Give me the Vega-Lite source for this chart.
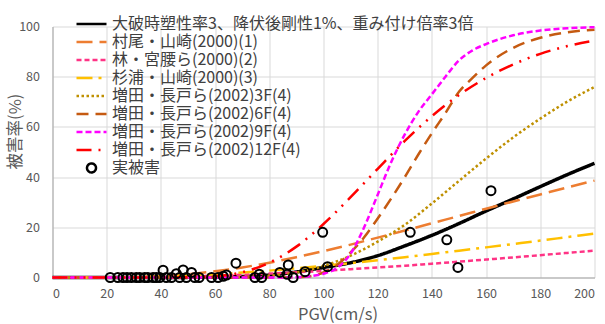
{
  "$schema": "https://vega.github.io/schema/vega-lite/v6.json",
  "width": 542,
  "height": 251,
  "autosize": {"type": "none"},
  "padding": {"left": 52.5, "top": 26.5, "right": 10.5, "bottom": 46.5},
  "background": "white",
  "config": {
    "view": {"stroke": null},
    "font": "Noto Sans CJK JP",
    "axis": {
      "labelFont": "Noto Sans CJK JP",
      "labelFontSize": 12.5,
      "labelColor": "#595959",
      "titleFont": "Noto Sans CJK JP",
      "titleFontSize": 16.5,
      "titleColor": "#595959",
      "titleFontWeight": "normal",
      "gridColor": "#D9D9D9",
      "gridWidth": 1,
      "ticks": false,
      "domainColor": "#A6A6A6",
      "domainWidth": 1
    },
    "legend": {
      "labelFont": "Noto Sans CJK JP",
      "labelFontSize": 16,
      "labelColor": "#404040",
      "labelLimit": 600
    }
  },
  "datasets": {
    "black": [
      {"s": "大破時塑性率3、降伏後剛性1%、重み付け倍率3倍", "x": 0, "y": 0},
      {"s": "大破時塑性率3、降伏後剛性1%、重み付け倍率3倍", "x": 20, "y": 0},
      {"s": "大破時塑性率3、降伏後剛性1%、重み付け倍率3倍", "x": 40, "y": 0},
      {"s": "大破時塑性率3、降伏後剛性1%、重み付け倍率3倍", "x": 50, "y": 0.05},
      {"s": "大破時塑性率3、降伏後剛性1%、重み付け倍率3倍", "x": 60, "y": 0.1},
      {"s": "大破時塑性率3、降伏後剛性1%、重み付け倍率3倍", "x": 70, "y": 0.4},
      {"s": "大破時塑性率3、降伏後剛性1%、重み付け倍率3倍", "x": 80, "y": 1.0},
      {"s": "大破時塑性率3、降伏後剛性1%、重み付け倍率3倍", "x": 90, "y": 2.2},
      {"s": "大破時塑性率3、降伏後剛性1%、重み付け倍率3倍", "x": 100, "y": 4.0},
      {"s": "大破時塑性率3、降伏後剛性1%、重み付け倍率3倍", "x": 110, "y": 5.9},
      {"s": "大破時塑性率3、降伏後剛性1%、重み付け倍率3倍", "x": 120, "y": 8.7},
      {"s": "大破時塑性率3、降伏後剛性1%、重み付け倍率3倍", "x": 130, "y": 12.6},
      {"s": "大破時塑性率3、降伏後剛性1%、重み付け倍率3倍", "x": 140, "y": 16.8},
      {"s": "大破時塑性率3、降伏後剛性1%、重み付け倍率3倍", "x": 150, "y": 21.5},
      {"s": "大破時塑性率3、降伏後剛性1%、重み付け倍率3倍", "x": 160, "y": 26.5},
      {"s": "大破時塑性率3、降伏後剛性1%、重み付け倍率3倍", "x": 170, "y": 31.3},
      {"s": "大破時塑性率3、降伏後剛性1%、重み付け倍率3倍", "x": 180, "y": 36.2},
      {"s": "大破時塑性率3、降伏後剛性1%、重み付け倍率3倍", "x": 190, "y": 41},
      {"s": "大破時塑性率3、降伏後剛性1%、重み付け倍率3倍", "x": 200, "y": 45.5}
    ],
    "curves": [
      {"s": "村尾・山崎(2000)(1)", "x": 0, "y": 0},
      {"s": "村尾・山崎(2000)(1)", "x": 10, "y": 0},
      {"s": "村尾・山崎(2000)(1)", "x": 20, "y": 0.03},
      {"s": "村尾・山崎(2000)(1)", "x": 30, "y": 0.17},
      {"s": "村尾・山崎(2000)(1)", "x": 40, "y": 0.6},
      {"s": "村尾・山崎(2000)(1)", "x": 50, "y": 1.3},
      {"s": "村尾・山崎(2000)(1)", "x": 60, "y": 2.5},
      {"s": "村尾・山崎(2000)(1)", "x": 70, "y": 4.0},
      {"s": "村尾・山崎(2000)(1)", "x": 80, "y": 5.9},
      {"s": "村尾・山崎(2000)(1)", "x": 90, "y": 8.1},
      {"s": "村尾・山崎(2000)(1)", "x": 100, "y": 10.5},
      {"s": "村尾・山崎(2000)(1)", "x": 110, "y": 13.1},
      {"s": "村尾・山崎(2000)(1)", "x": 120, "y": 15.9},
      {"s": "村尾・山崎(2000)(1)", "x": 130, "y": 18.7},
      {"s": "村尾・山崎(2000)(1)", "x": 140, "y": 21.6},
      {"s": "村尾・山崎(2000)(1)", "x": 150, "y": 24.5},
      {"s": "村尾・山崎(2000)(1)", "x": 160, "y": 27.4},
      {"s": "村尾・山崎(2000)(1)", "x": 170, "y": 30.3},
      {"s": "村尾・山崎(2000)(1)", "x": 180, "y": 33.1},
      {"s": "村尾・山崎(2000)(1)", "x": 190, "y": 35.9},
      {"s": "村尾・山崎(2000)(1)", "x": 200, "y": 38.6},
      {"s": "林・宮腰ら(2000)(2)", "x": 0, "y": 0},
      {"s": "林・宮腰ら(2000)(2)", "x": 20, "y": 0.02},
      {"s": "林・宮腰ら(2000)(2)", "x": 30, "y": 0.08},
      {"s": "林・宮腰ら(2000)(2)", "x": 40, "y": 0.22},
      {"s": "林・宮腰ら(2000)(2)", "x": 50, "y": 0.43},
      {"s": "林・宮腰ら(2000)(2)", "x": 60, "y": 0.72},
      {"s": "林・宮腰ら(2000)(2)", "x": 70, "y": 1.1},
      {"s": "林・宮腰ら(2000)(2)", "x": 80, "y": 1.55},
      {"s": "林・宮腰ら(2000)(2)", "x": 90, "y": 2.07},
      {"s": "林・宮腰ら(2000)(2)", "x": 100, "y": 2.65},
      {"s": "林・宮腰ら(2000)(2)", "x": 110, "y": 3.3},
      {"s": "林・宮腰ら(2000)(2)", "x": 120, "y": 4.0},
      {"s": "林・宮腰ら(2000)(2)", "x": 130, "y": 4.7},
      {"s": "林・宮腰ら(2000)(2)", "x": 140, "y": 5.5},
      {"s": "林・宮腰ら(2000)(2)", "x": 150, "y": 6.3},
      {"s": "林・宮腰ら(2000)(2)", "x": 160, "y": 7.15},
      {"s": "林・宮腰ら(2000)(2)", "x": 170, "y": 8.0},
      {"s": "林・宮腰ら(2000)(2)", "x": 180, "y": 8.9},
      {"s": "林・宮腰ら(2000)(2)", "x": 190, "y": 9.8},
      {"s": "林・宮腰ら(2000)(2)", "x": 200, "y": 10.7},
      {"s": "杉浦・山崎(2000)(3)", "x": 0, "y": 0},
      {"s": "杉浦・山崎(2000)(3)", "x": 20, "y": 0.03},
      {"s": "杉浦・山崎(2000)(3)", "x": 30, "y": 0.15},
      {"s": "杉浦・山崎(2000)(3)", "x": 40, "y": 0.38},
      {"s": "杉浦・山崎(2000)(3)", "x": 50, "y": 0.76},
      {"s": "杉浦・山崎(2000)(3)", "x": 60, "y": 1.29},
      {"s": "杉浦・山崎(2000)(3)", "x": 70, "y": 1.95},
      {"s": "杉浦・山崎(2000)(3)", "x": 80, "y": 2.74},
      {"s": "杉浦・山崎(2000)(3)", "x": 90, "y": 3.64},
      {"s": "杉浦・山崎(2000)(3)", "x": 100, "y": 4.65},
      {"s": "杉浦・山崎(2000)(3)", "x": 110, "y": 5.7},
      {"s": "杉浦・山崎(2000)(3)", "x": 120, "y": 6.9},
      {"s": "杉浦・山崎(2000)(3)", "x": 130, "y": 8.1},
      {"s": "杉浦・山崎(2000)(3)", "x": 140, "y": 9.4},
      {"s": "杉浦・山崎(2000)(3)", "x": 150, "y": 10.7},
      {"s": "杉浦・山崎(2000)(3)", "x": 160, "y": 12.0},
      {"s": "杉浦・山崎(2000)(3)", "x": 170, "y": 13.35},
      {"s": "杉浦・山崎(2000)(3)", "x": 180, "y": 14.7},
      {"s": "杉浦・山崎(2000)(3)", "x": 190, "y": 16.1},
      {"s": "杉浦・山崎(2000)(3)", "x": 200, "y": 17.5},
      {"s": "増田・長戸ら(2002)3F(4)", "x": 0, "y": 0},
      {"s": "増田・長戸ら(2002)3F(4)", "x": 40, "y": 0},
      {"s": "増田・長戸ら(2002)3F(4)", "x": 50, "y": 0},
      {"s": "増田・長戸ら(2002)3F(4)", "x": 60, "y": 0.03},
      {"s": "増田・長戸ら(2002)3F(4)", "x": 70, "y": 0.18},
      {"s": "増田・長戸ら(2002)3F(4)", "x": 80, "y": 0.7},
      {"s": "増田・長戸ら(2002)3F(4)", "x": 90, "y": 2.0},
      {"s": "増田・長戸ら(2002)3F(4)", "x": 100, "y": 4.6},
      {"s": "増田・長戸ら(2002)3F(4)", "x": 110, "y": 8.7},
      {"s": "増田・長戸ら(2002)3F(4)", "x": 120, "y": 14.3},
      {"s": "増田・長戸ら(2002)3F(4)", "x": 130, "y": 21},
      {"s": "増田・長戸ら(2002)3F(4)", "x": 140, "y": 29.5},
      {"s": "増田・長戸ら(2002)3F(4)", "x": 150, "y": 38.5},
      {"s": "増田・長戸ら(2002)3F(4)", "x": 160, "y": 47.4},
      {"s": "増田・長戸ら(2002)3F(4)", "x": 170, "y": 55.8},
      {"s": "増田・長戸ら(2002)3F(4)", "x": 180, "y": 63.3},
      {"s": "増田・長戸ら(2002)3F(4)", "x": 190, "y": 70.1},
      {"s": "増田・長戸ら(2002)3F(4)", "x": 200, "y": 75.9},
      {"s": "増田・長戸ら(2002)6F(4)", "x": 0, "y": 0},
      {"s": "増田・長戸ら(2002)6F(4)", "x": 80, "y": 0},
      {"s": "増田・長戸ら(2002)6F(4)", "x": 90, "y": 0.1},
      {"s": "増田・長戸ら(2002)6F(4)", "x": 95, "y": 0.5},
      {"s": "増田・長戸ら(2002)6F(4)", "x": 100, "y": 2.0},
      {"s": "増田・長戸ら(2002)6F(4)", "x": 105, "y": 5},
      {"s": "増田・長戸ら(2002)6F(4)", "x": 110, "y": 10},
      {"s": "増田・長戸ら(2002)6F(4)", "x": 115, "y": 16},
      {"s": "増田・長戸ら(2002)6F(4)", "x": 120, "y": 23.5},
      {"s": "増田・長戸ら(2002)6F(4)", "x": 125, "y": 31.5},
      {"s": "増田・長戸ら(2002)6F(4)", "x": 130, "y": 40},
      {"s": "増田・長戸ら(2002)6F(4)", "x": 135, "y": 49},
      {"s": "増田・長戸ら(2002)6F(4)", "x": 140, "y": 57.5},
      {"s": "増田・長戸ら(2002)6F(4)", "x": 145, "y": 65.5},
      {"s": "増田・長戸ら(2002)6F(4)", "x": 150, "y": 74},
      {"s": "増田・長戸ら(2002)6F(4)", "x": 155, "y": 79.5},
      {"s": "増田・長戸ら(2002)6F(4)", "x": 160, "y": 84.5},
      {"s": "増田・長戸ら(2002)6F(4)", "x": 170, "y": 91.5},
      {"s": "増田・長戸ら(2002)6F(4)", "x": 180, "y": 95.5},
      {"s": "増田・長戸ら(2002)6F(4)", "x": 190, "y": 97.7},
      {"s": "増田・長戸ら(2002)6F(4)", "x": 200, "y": 98.7},
      {"s": "増田・長戸ら(2002)9F(4)", "x": 0, "y": 0},
      {"s": "増田・長戸ら(2002)9F(4)", "x": 80, "y": 0},
      {"s": "増田・長戸ら(2002)9F(4)", "x": 90, "y": 0.1},
      {"s": "増田・長戸ら(2002)9F(4)", "x": 95, "y": 0.5},
      {"s": "増田・長戸ら(2002)9F(4)", "x": 100, "y": 1.5},
      {"s": "増田・長戸ら(2002)9F(4)", "x": 105, "y": 3.8},
      {"s": "増田・長戸ら(2002)9F(4)", "x": 110, "y": 9.5},
      {"s": "増田・長戸ら(2002)9F(4)", "x": 115, "y": 20},
      {"s": "増田・長戸ら(2002)9F(4)", "x": 120, "y": 33},
      {"s": "増田・長戸ら(2002)9F(4)", "x": 125, "y": 46},
      {"s": "増田・長戸ら(2002)9F(4)", "x": 130, "y": 57},
      {"s": "増田・長戸ら(2002)9F(4)", "x": 135, "y": 66},
      {"s": "増田・長戸ら(2002)9F(4)", "x": 140, "y": 73},
      {"s": "増田・長戸ら(2002)9F(4)", "x": 145, "y": 80},
      {"s": "増田・長戸ら(2002)9F(4)", "x": 150, "y": 86.5},
      {"s": "増田・長戸ら(2002)9F(4)", "x": 155, "y": 90.5},
      {"s": "増田・長戸ら(2002)9F(4)", "x": 160, "y": 93},
      {"s": "増田・長戸ら(2002)9F(4)", "x": 170, "y": 96.5},
      {"s": "増田・長戸ら(2002)9F(4)", "x": 180, "y": 98.4},
      {"s": "増田・長戸ら(2002)9F(4)", "x": 190, "y": 99.3},
      {"s": "増田・長戸ら(2002)9F(4)", "x": 200, "y": 99.7},
      {"s": "増田・長戸ら(2002)12F(4)", "x": 0, "y": 0},
      {"s": "増田・長戸ら(2002)12F(4)", "x": 40, "y": 0},
      {"s": "増田・長戸ら(2002)12F(4)", "x": 50, "y": 0.1},
      {"s": "増田・長戸ら(2002)12F(4)", "x": 60, "y": 0.5},
      {"s": "増田・長戸ら(2002)12F(4)", "x": 70, "y": 2.1},
      {"s": "増田・長戸ら(2002)12F(4)", "x": 80, "y": 5.9},
      {"s": "増田・長戸ら(2002)12F(4)", "x": 90, "y": 12.3},
      {"s": "増田・長戸ら(2002)12F(4)", "x": 100, "y": 21.3},
      {"s": "増田・長戸ら(2002)12F(4)", "x": 110, "y": 32},
      {"s": "増田・長戸ら(2002)12F(4)", "x": 120, "y": 43.3},
      {"s": "増田・長戸ら(2002)12F(4)", "x": 130, "y": 54.4},
      {"s": "増田・長戸ら(2002)12F(4)", "x": 140, "y": 64.3},
      {"s": "増田・長戸ら(2002)12F(4)", "x": 150, "y": 72.7},
      {"s": "増田・長戸ら(2002)12F(4)", "x": 160, "y": 79.5},
      {"s": "増田・長戸ら(2002)12F(4)", "x": 170, "y": 84.9},
      {"s": "増田・長戸ら(2002)12F(4)", "x": 180, "y": 89.1},
      {"s": "増田・長戸ら(2002)12F(4)", "x": 190, "y": 92.2},
      {"s": "増田・長戸ら(2002)12F(4)", "x": 200, "y": 94.4}
    ],
    "obs": [
      {"s": "実被害", "x": 21.3, "y": 0},
      {"s": "実被害", "x": 24.1, "y": 0},
      {"s": "実被害", "x": 26.0, "y": 0},
      {"s": "実被害", "x": 27.5, "y": 0},
      {"s": "実被害", "x": 29.1, "y": 0},
      {"s": "実被害", "x": 30.9, "y": 0},
      {"s": "実被害", "x": 32.2, "y": 0},
      {"s": "実被害", "x": 34.0, "y": 0},
      {"s": "実被害", "x": 35.2, "y": 0},
      {"s": "実被害", "x": 37.1, "y": 0},
      {"s": "実被害", "x": 38.3, "y": 0},
      {"s": "実被害", "x": 39.6, "y": 0},
      {"s": "実被害", "x": 40.8, "y": 2.9},
      {"s": "実被害", "x": 42.0, "y": 0},
      {"s": "実被害", "x": 43.9, "y": 0},
      {"s": "実被害", "x": 45.7, "y": 1.5},
      {"s": "実被害", "x": 46.9, "y": 0},
      {"s": "実被害", "x": 48.2, "y": 3.0},
      {"s": "実被害", "x": 49.4, "y": 0},
      {"s": "実被害", "x": 51.3, "y": 2.0},
      {"s": "実被害", "x": 52.5, "y": 0},
      {"s": "実被害", "x": 54.1, "y": 0},
      {"s": "実被害", "x": 58.7, "y": 0},
      {"s": "実被害", "x": 61.1, "y": 0},
      {"s": "実被害", "x": 63.0, "y": 0.5},
      {"s": "実被害", "x": 64.2, "y": 1.0},
      {"s": "実被害", "x": 67.7, "y": 5.7},
      {"s": "実被害", "x": 74.7, "y": 0},
      {"s": "実被害", "x": 76.3, "y": 1.3},
      {"s": "実被害", "x": 77.2, "y": 0},
      {"s": "実被害", "x": 83.9, "y": 2.0},
      {"s": "実被害", "x": 86.6, "y": 1.3},
      {"s": "実被害", "x": 87.0, "y": 5.0},
      {"s": "実被害", "x": 88.8, "y": 0},
      {"s": "実被害", "x": 93.2, "y": 2.3},
      {"s": "実被害", "x": 99.7, "y": 18.0},
      {"s": "実被害", "x": 101.5, "y": 4.3},
      {"s": "実被害", "x": 132.0, "y": 18.0},
      {"s": "実被害", "x": 145.5, "y": 15.0},
      {"s": "実被害", "x": 149.6, "y": 4.0},
      {"s": "実被害", "x": 161.8, "y": 34.6}
    ]
  },
  "layer": [
    {
      "data": {"name": "black"},
      "mark": {"type": "line", "interpolate": "monotone", "strokeWidth": 3.5, "strokeCap": "butt"},
      "encoding": {
        "x": {"field": "x", "type": "quantitative", "scale": {"domain": [0, 200], "nice": false},
          "axis": {"values": [0, 20, 40, 60, 80, 100, 120, 140, 160, 180, 200], "title": "PGV(cm/s)", "labelPadding": 10, "titleX": 285, "titleY": 37, "titleBaseline": "middle", "titleAlign": "center"}},
        "y": {"field": "y", "type": "quantitative", "scale": {"domain": [0, 100], "nice": false},
          "axis": {"values": [0, 20, 40, 60, 80, 100], "title": "被害率(%)", "labelPadding": 13, "titleX": -37.5, "titleY": 104.5, "titleBaseline": "middle", "titleAlign": "center", "titleAngle": -90}},
        "color": {"field": "s", "type": "nominal",
          "scale": {"domain": ["大破時塑性率3、降伏後剛性1%、重み付け倍率3倍", "村尾・山崎(2000)(1)", "林・宮腰ら(2000)(2)", "杉浦・山崎(2000)(3)", "増田・長戸ら(2002)3F(4)", "増田・長戸ら(2002)6F(4)", "増田・長戸ら(2002)9F(4)", "増田・長戸ら(2002)12F(4)", "実被害"],
            "range": ["#000000", "#ED7D31", "#FF3385", "#FFC000", "#BF9000", "#C55A11", "#FF00FF", "#FF0000", "#000000"]},
          "legend": {"title": null, "orient": "none", "legendX": 22.5, "legendY": -11.4, "padding": 0, "rowPadding": 0, "clipHeight": 17.7, "symbolSize": 900, "symbolStrokeWidth": 2.5, "symbolOffset": 0, "labelOffset": 4, "labelLimit": 600, "labelFontSize": 16, "labelColor": "#404040"}},
        "strokeDash": {"field": "s", "type": "nominal",
          "scale": {"domain": ["大破時塑性率3、降伏後剛性1%、重み付け倍率3倍", "村尾・山崎(2000)(1)", "林・宮腰ら(2000)(2)", "杉浦・山崎(2000)(3)", "増田・長戸ら(2002)3F(4)", "増田・長戸ら(2002)6F(4)", "増田・長戸ら(2002)9F(4)", "増田・長戸ら(2002)12F(4)", "実被害"],
            "range": [[1, 0], [16, 7], [5, 3], [16, 6, 3, 6], [2.5, 2.5], [12, 7], [6, 3], [15, 7, 2, 7, 2, 7], [1, 0]]}}
      }
    },
    {
      "data": {"name": "curves"},
      "mark": {"type": "line", "interpolate": "monotone", "strokeWidth": 2.5, "strokeCap": "butt"},
      "encoding": {
        "x": {"field": "x", "type": "quantitative"},
        "y": {"field": "y", "type": "quantitative"},
        "color": {"field": "s", "type": "nominal"},
        "strokeDash": {"field": "s", "type": "nominal"}
      }
    },
    {
      "data": {"name": "obs"},
      "mark": {"type": "point", "filled": false, "size": 900, "strokeWidth": 2, "opacity": 1},
      "encoding": {
        "x": {"field": "x", "type": "quantitative"},
        "y": {"field": "y", "type": "quantitative"},
        "color": {"field": "s", "type": "nominal"},
        "shape": {"field": "s", "type": "nominal",
          "scale": {"domain": ["大破時塑性率3、降伏後剛性1%、重み付け倍率3倍", "村尾・山崎(2000)(1)", "林・宮腰ら(2000)(2)", "杉浦・山崎(2000)(3)", "増田・長戸ら(2002)3F(4)", "増田・長戸ら(2002)6F(4)", "増田・長戸ら(2002)9F(4)", "増田・長戸ら(2002)12F(4)", "実被害"],
            "range": ["M-1,0L1,0", "M-1,0L1,0", "M-1,0L1,0", "M-1,0L1,0", "M-1,0L1,0", "M-1,0L1,0", "M-1,0L1,0", "M-1,0L1,0", "M-0.3,0A0.3,0.3,0,1,0,0.3,0A0.3,0.3,0,1,0,-0.3,0Z"]}}
      }
    }
  ]
}
